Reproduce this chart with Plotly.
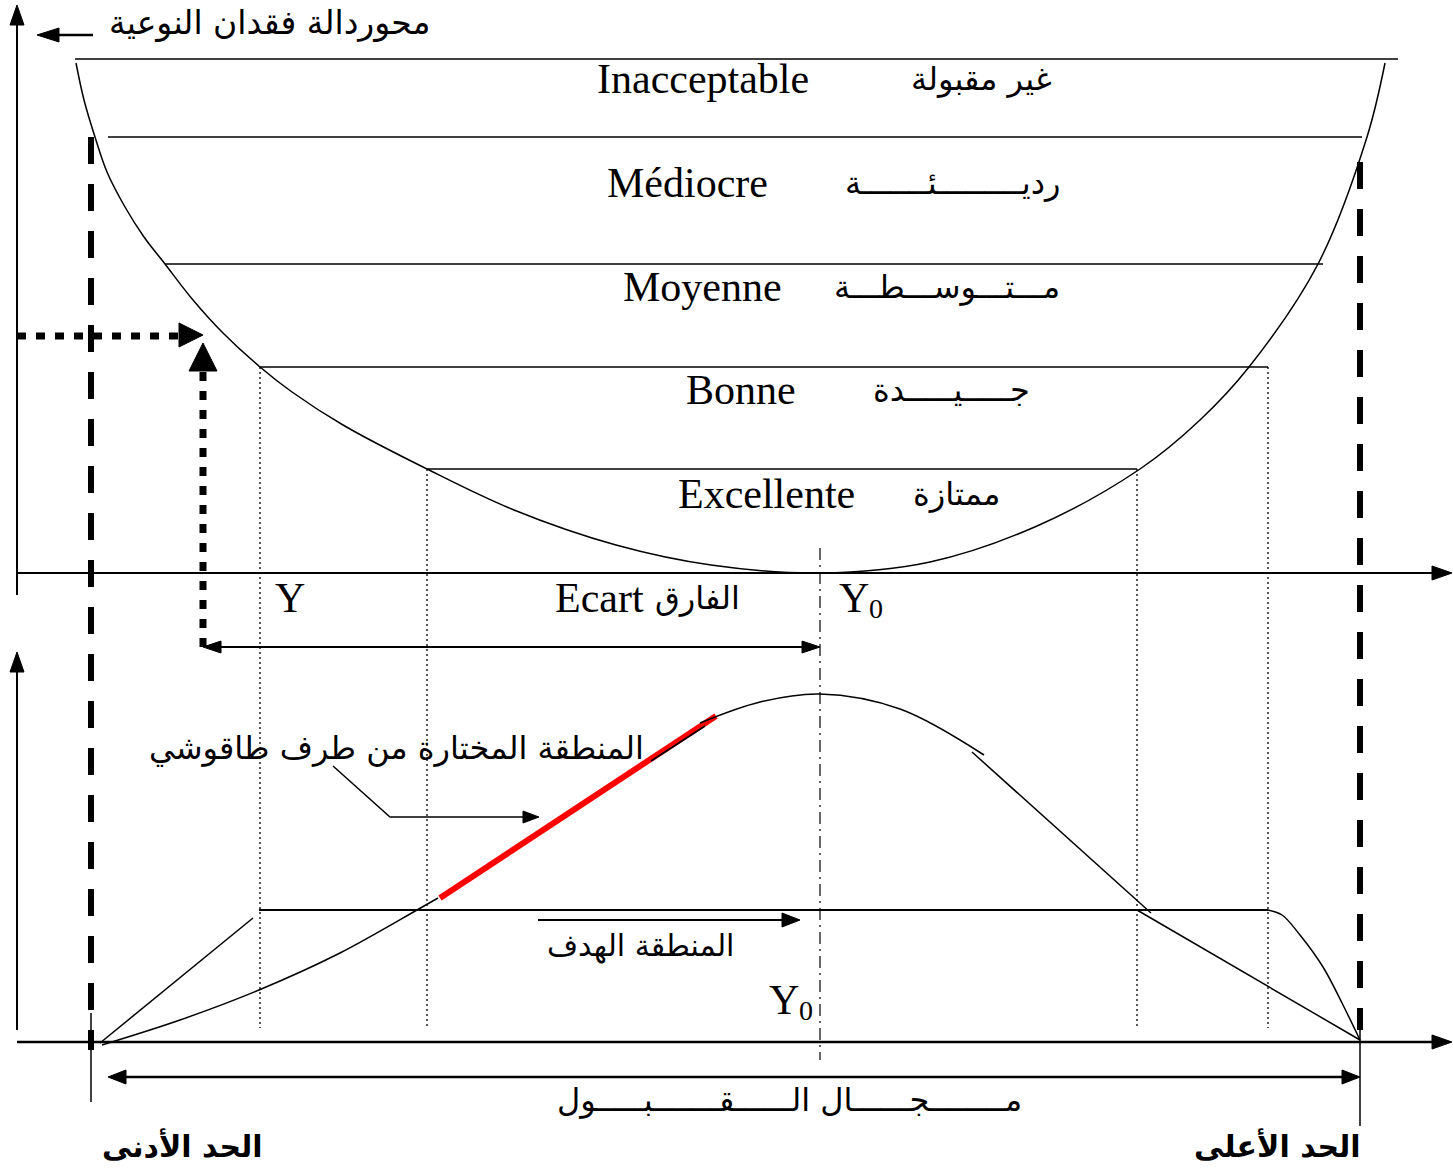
import plotly.graph_objects as go

# ---------------- data (diagram coordinates, y grows downward) ----------------
# Quality-loss function (upper panel)
loss_curve_x = [76, 84, 95, 107, 125, 144, 165, 193, 223, 260, 292, 343, 427, 514, 616, 711, 820,
                930, 1037, 1140, 1200, 1249, 1318, 1367, 1385]
loss_curve_y = [63, 100, 137, 172, 207, 237, 264, 300, 333, 367, 392, 425, 469, 510, 545, 565, 573,
                562, 526, 469, 420, 367, 264, 137, 63]

# quality grades (bands)
grade_fr = ["Inacceptable", "Médiocre", "Moyenne", "Bonne", "Excellente"]
grade_ar = ["غير مقبولة", "رديـــــــــئـــــــة", "مـــتـــوســـطـــة", "جـــــيـــــدة", "ممتازة"]
grade_line_y = [59, 137, 264, 367, 469]
grade_line_x0 = [75, 108, 165, 260, 427]
grade_line_x1 = [1398, 1362, 1323, 1268, 1137]
grade_fr_x = [703, 687, 702, 741, 766]
grade_ar_x = [981, 952, 947, 951, 956]
grade_text_y = [79, 183, 287, 390, 494]

# target / tolerance positions
target_x = 820
lsl_x, usl_x = 91, 1360
zone_inner_x = [427, 1137]
zone_outer_x = [260, 1268]
upper_axis_y = 573
lower_axis_y = 1042
target_zone_y = 910

# lower panel curve pieces
bell_left_x = [102, 180, 259, 340, 417, 438]
bell_left_y = [1045, 1020, 990, 953, 910, 898]
taguchi_red_x = [440, 716]
taguchi_red_y = [898, 716]
bell_top_x = [700, 760, 820, 900, 984]
bell_top_y = [723, 702, 694, 709, 755]
bell_right_x = [972, 1151]
bell_right_y = [752, 913]
bell_tail_x = [1137, 1360]
bell_tail_y = [910, 1040]
left_ramp_x = [100, 253]
left_ramp_y = [1043, 918]
right_ramp_x = [1268, 1282, 1300, 1323, 1342, 1360]
right_ramp_y = [910, 915, 935, 967, 1003, 1040]
tangent_x = [651, 705]
tangent_y = [761, 726]

# ---------------- figure ----------------
fig = go.Figure()
BLACK = "black"


def line(xs, ys, width=1.5, dash="solid", color=BLACK, shape="linear"):
    fig.add_trace(go.Scatter(x=xs, y=ys, mode="lines", hoverinfo="skip",
                             line=dict(color=color, width=width, dash=dash, shape=shape),
                             showlegend=False))


def head(tip_x, tip_y, dx, dy, length=22, half=9):
    # filled triangular arrow head pointing along (dx, dy)
    n = (dx * dx + dy * dy) ** 0.5
    ux, uy = dx / n, dy / n
    px, py = -uy, ux
    bx, by = tip_x - ux * length, tip_y - uy * length
    fig.add_trace(go.Scatter(
        x=[tip_x, bx + px * half, bx - px * half, tip_x],
        y=[tip_y, by + py * half, by - py * half, tip_y],
        mode="lines", fill="toself", fillcolor=BLACK,
        line=dict(color=BLACK, width=1), hoverinfo="skip", showlegend=False))


# loss curve
line(loss_curve_x, loss_curve_y, width=1.5, shape="spline")

# grade lines
for y, x0, x1 in zip(grade_line_y, grade_line_x0, grade_line_x1):
    line([x0, x1], [y, y], width=1.5)

# upper axes
line([17, 17], [595, 12], width=2)
head(17, 5, 0, -1, length=20, half=7)
line([17, 1440], [upper_axis_y, upper_axis_y], width=2)
head(1452, upper_axis_y, 1, 0, length=20, half=7)

# lower axes
line([17, 17], [1030, 660], width=2)
head(17, 652, 0, -1, length=20, half=7)
line([17, 1440], [lower_axis_y, lower_axis_y], width=2.5)
head(1452, lower_axis_y, 1, 0, length=20, half=7)

# thin dotted verticals of zones
for x in zone_outer_x:
    line([x, x], [367, 1028], width=1.3, dash="2px,3px")
for x in zone_inner_x:
    line([x, x], [469, 1028], width=1.3, dash="2px,3px")

# target dash-dot vertical
line([target_x, target_x], [548, 1060], width=1.2, dash="12px,5px,2px,5px")

# thick dashed tolerance limits
line([lsl_x, lsl_x], [137, 1050], width=6, dash="27px,20px")
line([lsl_x, lsl_x], [1013, 1102], width=1.5)
line([usl_x, usl_x], [162, 1030], width=6, dash="27px,20px")
line([usl_x, usl_x], [1030, 1126], width=1.5)

# thick dotted arrows (reading the loss)
line([17, 182], [336, 336], width=7, dash="9px,10px")
head(203, 335, 1, 0, length=24, half=12)
line([203, 203], [647, 372], width=7, dash="9px,10px")
head(203, 343, 0, -1, length=28, half=14)

# Ecart double arrow
line([206, 816], [647, 647], width=2)
head(203, 647, -1, 0, length=18, half=6)
head(820, 647, 1, 0, length=18, half=6)

# top-left axis label arrow
line([55, 93], [35, 35], width=2.5)
head(37, 35, -1, 0, length=22, half=7)

# lower panel
line([259, usl_x - 92], [target_zone_y, target_zone_y], width=2)
line(left_ramp_x, left_ramp_y, width=1.5)
line(bell_left_x, bell_left_y, width=1.5, shape="spline")
line(taguchi_red_x, taguchi_red_y, width=6, color="#ff0000")
line(bell_top_x, bell_top_y, width=1.5, shape="spline")
line(tangent_x, tangent_y, width=1.5)
line(bell_right_x, bell_right_y, width=1.5)
line(bell_tail_x, bell_tail_y, width=1.5)
line(right_ramp_x, right_ramp_y, width=1.5, shape="spline")

# target-zone arrow
line([538, 785], [920, 920], width=2)
head(800, 920, 1, 0, length=18, half=7)

# Taguchi leader arrow
line([333, 390, 525], [766, 817, 817], width=1.5)
head(539, 817, 1, 0, length=16, half=6)

# acceptance double arrow
line([122, 1346], [1077, 1077], width=2.5)
head(108, 1077, -1, 0, length=18, half=7)
head(1360, 1077, 1, 0, length=18, half=7)

# ---------------- text ----------------
SERIF = "Liberation Serif, Times New Roman, serif"
ARAB = "DejaVu Sans, Arial, sans-serif"


def text(x, y, s, size, family, anchor="center", color=BLACK, weight="normal"):
    fig.add_annotation(x=x, y=y, text=s, showarrow=False, xanchor=anchor, yanchor="middle",
                       font=dict(family=family, size=size, color=color, weight=weight))


for fr, ar, fx, ax_, ty in zip(grade_fr, grade_ar, grade_fr_x, grade_ar_x, grade_text_y):
    text(fx, ty, fr, 42, SERIF)
    text(ax_, ty, ar, 32, ARAB)

text(269, 22, "محوردالة فقدان النوعية", 33, ARAB)
text(290, 598, "Y", 42, SERIF)
text(599, 598, "Ecart", 42, SERIF)
text(697, 598, "الفارق", 32, ARAB)
# Y0 labels (Y with subscript 0)
text(854, 598, "Y", 42, SERIF)
text(876, 608, "0", 28, SERIF)
text(784, 1000, "Y", 42, SERIF)
text(806, 1010, "0", 28, SERIF)
text(396, 748, "المنطقة المختارة من طرف طاقوشي", 32, ARAB)
text(640, 946, "المنطقة الهدف", 30, ARAB)
text(789, 1100, "مــــــــجــــــال الــــــقـــــــبـــــول", 32, ARAB)
text(182, 1146, "الحد الأدنى", 30, ARAB, weight="bold")
text(1277, 1146, "الحد الأعلى", 30, ARAB, weight="bold")

fig.update_layout(
    width=1453, height=1173,
    margin=dict(l=0, r=0, t=0, b=0),
    paper_bgcolor="white", plot_bgcolor="white",
    xaxis=dict(range=[0, 1453], visible=False, fixedrange=True),
    yaxis=dict(range=[1173, 0], visible=False, fixedrange=True),
    showlegend=False,
)

fig.write_html("out.html", post_script="document.body.style.margin='0';",
               config={"displayModeBar": False})
